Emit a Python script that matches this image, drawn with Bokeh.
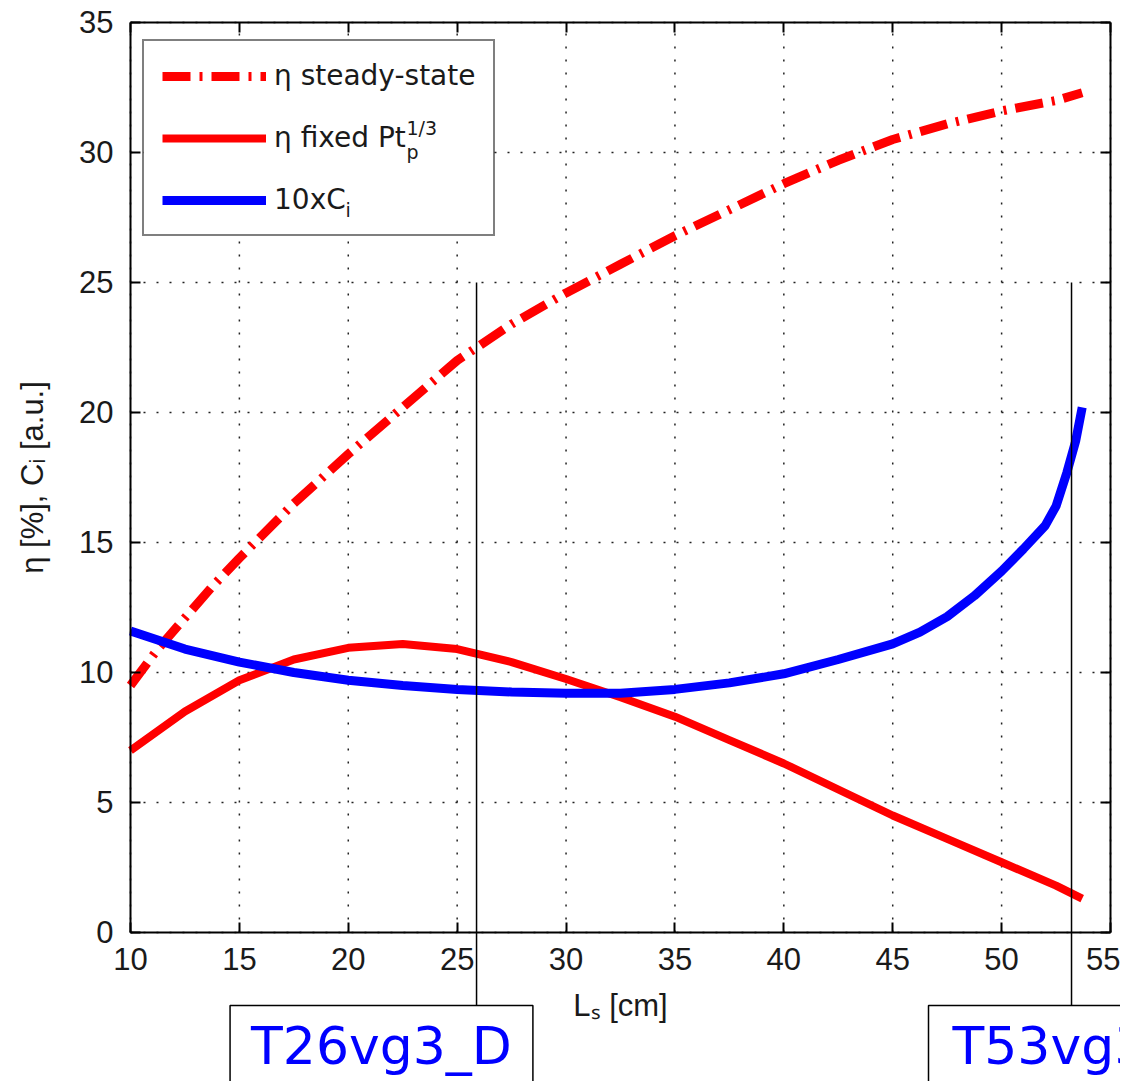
from bokeh.plotting import figure
from bokeh.models import (Range1d, LinearAxis, Legend, LegendItem, Label, FixedTicker, BoxAnnotation)
from bokeh.embed import file_html
from bokeh.resources import INLINE

# ---- data ----
ls_ss = [10, 11.25, 12.5, 13.75, 15, 17.5, 20, 22.5, 25, 27.5, 30, 32.5, 35, 37.5, 40, 42.5, 45, 47.5, 50, 52.5, 53.7]
eta_ss = [9.5, 10.9, 12.1, 13.3, 14.4, 16.5, 18.4, 20.2, 22.0, 23.4, 24.6, 25.7, 26.8, 27.8, 28.8, 29.7, 30.5, 31.1, 31.6, 32.0, 32.3]

ls_fx = [10, 12.5, 15, 17.5, 20, 22.5, 25, 27.5, 30, 32.5, 35, 37.5, 40, 42.5, 45, 47.5, 50, 52.5, 53.7]
eta_fx = [7.0, 8.5, 9.7, 10.5, 10.95, 11.1, 10.9, 10.4, 9.75, 9.05, 8.3, 7.4, 6.5, 5.5, 4.5, 3.6, 2.7, 1.8, 1.3]

ls_ci = [10, 12.5, 15, 17.5, 20, 22.5, 25, 27.5, 30, 32.5, 35, 37.5, 40, 42.5, 45, 46.25, 47.5, 48.75,
         50, 51, 52, 52.5, 53, 53.4, 53.7]
ci10 = [11.6, 10.9, 10.4, 10.0, 9.7, 9.5, 9.35, 9.25, 9.2, 9.2, 9.35, 9.6, 9.95, 10.5, 11.1, 11.55, 12.15, 12.95,
        13.9, 14.75, 15.65, 16.4, 17.7, 18.9, 20.2]

x_ticks = [10, 15, 20, 25, 30, 35, 40, 45, 50, 55]
y_ticks = [0, 5, 10, 15, 20, 25, 30, 35]
x_lim = (10, 55)
y_lim = (0, 35)

marker_ls = [25.89, 53.21]
marker_names = ["T26vg3_D", "T53vg3"]
marker_top = [25, 25]
marker_bottom = [-2.81, -2.81]

TICK_FONT = "Liberation Sans"
TEXT_FONT = "DejaVu Sans"
INK = "#1a1a1a"

# the frame fills the whole canvas; the axes box (10..55 x 0..35) is drawn with fixed-location axes
p = figure(width=1120, height=1081, output_backend="svg", toolbar_location=None,
           x_range=Range1d(4.031, 55.459), y_range=Range1d(-5.731, 35.846),
           min_border_left=0, min_border_right=0, min_border_top=0, min_border_bottom=0,
           x_axis_location=None, y_axis_location=None)
p.outline_line_color = None
p.background_fill_color = "white"
p.border_fill_color = "white"
p.xgrid.visible = False
p.ygrid.visible = False

# dotted grid, only inside the box
grid_style = dict(line_color="#222222", line_width=1.5, line_dash="2 11", level="underlay")
p.segment(x0=x_ticks, y0=[y_lim[0]] * len(x_ticks), x1=x_ticks, y1=[y_lim[1]] * len(x_ticks), **grid_style)
p.segment(x0=[x_lim[0]] * len(y_ticks), y0=y_ticks, x1=[x_lim[1]] * len(y_ticks), y1=y_ticks, **grid_style)

# white backing for the legend (covers the grid)
p.add_layout(BoxAnnotation(left=10.6, right=26.6, top=34.27, bottom=26.85, fill_color="white",
                           fill_alpha=1, line_color=None, level="underlay"))

ya = LinearAxis(fixed_location=x_lim[0], bounds=y_lim, ticker=FixedTicker(ticks=y_ticks),
                axis_label="η [%], Cᵢ [a.u.]")
xa = LinearAxis(fixed_location=y_lim[0], bounds=x_lim, ticker=FixedTicker(ticks=x_ticks),
                axis_label="Lₛ [cm]")
p.add_layout(ya, "left")
p.add_layout(xa, "below")

for ax in (xa, ya):
    ax.major_tick_in = 10
    ax.major_tick_out = 0
    ax.minor_tick_line_color = None
    ax.axis_line_color = "black"
    ax.axis_line_width = 2
    ax.major_tick_line_width = 2
    ax.major_label_text_font = TICK_FONT
    ax.major_label_text_font_size = "31px"
    ax.major_label_text_color = INK
    ax.axis_label_text_font = TICK_FONT
    ax.axis_label_text_font_size = "31px"
    ax.axis_label_text_font_style = "normal"
    ax.axis_label_text_color = INK
xa.major_label_standoff = 16
ya.major_label_standoff = 17
xa.axis_label_standoff = 14
ya.axis_label_standoff = 26

# top and right sides of the box: inward ticks, no labels
top_ax = LinearAxis(fixed_location=y_lim[1], bounds=x_lim, ticker=FixedTicker(ticks=x_ticks),
                    major_tick_in=10, major_tick_out=0, major_tick_line_width=2,
                    minor_tick_line_color=None, axis_line_width=2,
                    major_label_overrides={t: "" for t in x_ticks})
p.add_layout(top_ax, "above")
right_ax = LinearAxis(fixed_location=x_lim[1], bounds=y_lim, ticker=FixedTicker(ticks=y_ticks),
                      major_tick_in=10, major_tick_out=0, major_tick_line_width=2,
                      minor_tick_line_color=None, axis_line_width=2,
                      major_label_overrides={t: "" for t in y_ticks})
p.add_layout(right_ax, "right")

r_ss = p.line(ls_ss, eta_ss, line_color="#ff0000", line_width=9, line_dash="28 9 3 9")
r_fx = p.line(ls_fx, eta_fx, line_color="#ff0000", line_width=8)
r_ci = p.line(ls_ci, ci10, line_color="#0000ff", line_width=9)

legend = Legend(items=[LegendItem(label="η steady-state", renderers=[r_ss]),
                       LegendItem(label="η fixed Pt", renderers=[r_fx]),
                       LegendItem(label="10xC", renderers=[r_ci])],
                location=(142, 845), padding=18, spacing=29, label_height=30, glyph_height=30,
                glyph_width=104, label_standoff=8, margin=0,
                label_text_font=TEXT_FONT, label_text_font_size="28px", label_text_color=INK,
                border_line_color="black", border_line_width=2, background_fill_alpha=0)
p.add_layout(legend)

sub_style = dict(text_font=TEXT_FONT, text_font_size="19px", text_color=INK,
                 text_baseline="middle", text_align="left", level="overlay")
p.add_layout(Label(x=22.67, y=30.95, text="1/3", **sub_style))
p.add_layout(Label(x=22.67, y=30.0, text="p", **sub_style))
p.add_layout(Label(x=19.87, y=27.77, text="i", **sub_style))

# sample markers below the axis
p.segment(x0=marker_ls, y0=marker_top, x1=marker_ls, y1=marker_bottom,
          line_color="black", line_width=1.5)

box_style = dict(text_font=TEXT_FONT, text_font_size="52px", text_color="#0000ff",
                 text_baseline="top", border_line_color="black", border_line_width=1.5,
                 background_fill_color="white", level="overlay")
p.add_layout(Label(x=21.525, y=-2.808, text=marker_names[0], text_align="center",
                   padding=dict(left=21, right=21, top=10, bottom=100), **box_style))
p.add_layout(Label(x=46.643, y=-2.808, text=marker_names[1], text_align="left",
                   padding=dict(left=24, right=200, top=10, bottom=100), **box_style))

open("out.html", "w").write(file_html(p, INLINE))
